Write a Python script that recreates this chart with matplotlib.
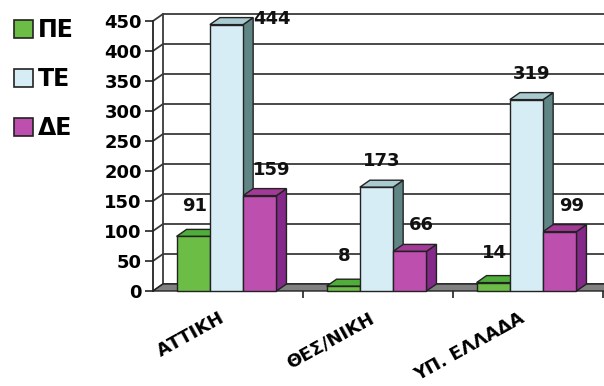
import matplotlib
matplotlib.use("Agg")
import matplotlib.pyplot as plt
from matplotlib.patches import Polygon, Patch
from matplotlib.transforms import ScaledTranslation

categories = ["ΑΤΤΙΚΗ", "ΘΕΣ/ΝΙΚΗ", "ΥΠ. ΕΛΛΑΔΑ"]
series_names = ["ΠΕ", "ΤΕ", "ΔΕ"]
pe_values = [91, 8, 14]
te_values = [444, 173, 319]
de_values = [159, 66, 99]
y_ticks = [0, 50, 100, 150, 200, 250, 300, 350, 400, 450]

series_values = [pe_values, te_values, de_values]
front_colors = ["#6cbd45", "#d6edf6", "#bd4fae"]
top_colors = ["#4fae3a", "#a9cbcf", "#a43a98"]
side_colors = ["#3f8f2e", "#5f8585", "#84288a"]
label_dx = [1, 5, 12]
label_dy = [30, 26, 26]

plt.rcParams['font.family'] = ['DejaVu Sans']

W, H = 604, 386
fig = plt.figure(figsize=(W / 100, H / 100), dpi=100)
left_px, right_px, bot_px, top_px = 153, 603, 291, 21
ax = fig.add_axes([left_px / W, (H - bot_px) / H, (right_px - left_px) / W, (bot_px - top_px) / H])
ax.set_xlim(0, 3)
ax.set_ylim(0, 450)

px_x = 3 / (right_px - left_px)
px_y = 450 / (bot_px - top_px)
ddx = 10 * px_x
ddy = 7 * px_y
edge = "#222222"
gridc = "#3a3a3a"

# back wall gridlines + left wall
for yv in y_ticks:
    ax.plot([0, ddx, 3 + ddx + 0.1], [yv, yv + ddy, yv + ddy], color=gridc, lw=1.3,
            clip_on=False, zorder=1, solid_capstyle='butt')
ax.plot([ddx, ddx], [ddy, 450 + ddy], color=gridc, lw=1.3, clip_on=False, zorder=1)

# floor
floor = Polygon([(0, 0), (3.2, 0), (3.2 + ddx, ddy), (ddx, ddy)], closed=True,
                facecolor="#808080", edgecolor=edge, lw=1.0, clip_on=False, zorder=2)
ax.add_patch(floor)

bw = 0.222
for ci in range(len(categories)):
    center = ci + 0.49
    for si in range(len(series_values)):
        v = series_values[si][ci]
        x0 = center + (si - 1.5) * bw
        x1 = x0 + bw
        z = 3 + ci * 10 + si * 3
        side = Polygon([(x1, 0), (x1 + ddx, ddy), (x1 + ddx, v + ddy), (x1, v)], closed=True,
                       facecolor=side_colors[si], edgecolor=edge, lw=1.0, zorder=z, clip_on=False)
        top = Polygon([(x0, v), (x1, v), (x1 + ddx, v + ddy), (x0 + ddx, v + ddy)], closed=True,
                      facecolor=top_colors[si], edgecolor=edge, lw=1.0, zorder=z + 1, clip_on=False)
        front = Polygon([(x0, 0), (x1, 0), (x1, v), (x0, v)], closed=True,
                        facecolor=front_colors[si], edgecolor=edge, lw=1.0, zorder=z + 2, clip_on=False)
        ax.add_patch(side)
        ax.add_patch(top)
        ax.add_patch(front)
        xc = (x0 + x1) / 2
        if v + 30 * px_y > 450:
            off = (45, 6)
        else:
            off = (label_dx[si], label_dy[si])
        ax.annotate(str(v), xy=(xc, v), xytext=off, textcoords='offset pixels',
                    ha='center', va='center', fontsize=13, fontweight='bold',
                    color="#111111", zorder=50, annotation_clip=False)

for s in ["top", "right"]:
    ax.spines[s].set_visible(False)
ax.spines["left"].set_color(edge)
ax.spines["left"].set_linewidth(1.3)
ax.spines["left"].set_zorder(40)
ax.spines["bottom"].set_visible(False)
ax.patch.set_visible(False)

ax.set_yticks(y_ticks)
ax.set_yticklabels([str(t) for t in y_ticks], fontsize=13, fontweight='bold')
ax.tick_params(axis='y', length=6, width=1.2, color=edge, pad=2)

ax.set_xticks([i + 0.49 for i in range(len(categories))])
ax.set_xticklabels(categories, rotation=29, ha='right', rotation_mode='anchor',
                   fontsize=13, fontweight='bold')
ax.set_xticks([1, 2, 3], minor=True)
ax.tick_params(axis='x', which='major', length=0, pad=13)
ax.tick_params(axis='x', which='minor', length=5, width=1.2, color=edge)
shift = ScaledTranslation(-8 / 100, 0, fig.dpi_scale_trans)
for lbl in ax.get_xticklabels():
    lbl.set_transform(lbl.get_transform() + shift)

handles = [Patch(facecolor=front_colors[i], edgecolor=edge, lw=1.2) for i in range(3)]
fig.legend(handles, series_names, loc='upper left', bbox_to_anchor=(5 / W, 1 - 9 / H),
           frameon=False, prop={'size': 17, 'weight': 'bold'}, handlelength=0.8,
           handleheight=0.8, handletextpad=0.2, labelspacing=1.05, borderaxespad=0)

fig.savefig("out.png", dpi=100)
